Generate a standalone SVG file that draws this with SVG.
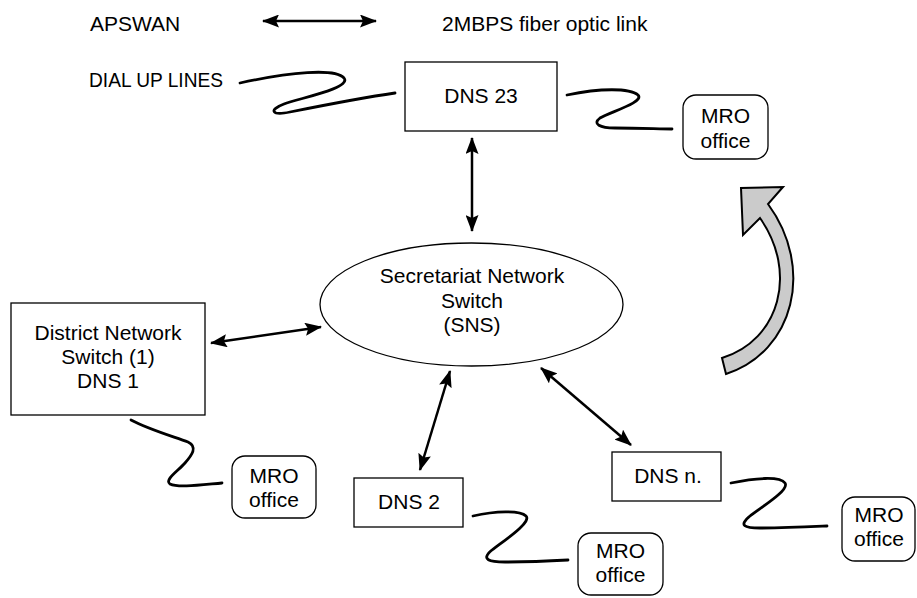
<svg xmlns="http://www.w3.org/2000/svg" width="917" height="598" viewBox="0 0 917 598">
<style>
  text { font-family: "Liberation Sans", Arial, sans-serif; font-size: 21px; fill: #000; text-anchor: middle; }
  .lt { text-anchor: start; }
  .box { fill: #fff; stroke: #000; stroke-width: 1.3; }
  .mro { fill: #fff; stroke: #000; stroke-width: 1.3; }
  .link { fill: none; stroke: #000; stroke-width: 2.5; marker-start: url(#ah); marker-end: url(#ah); }
  .dial { fill: none; stroke: #000; stroke-width: 2.8; stroke-linecap: round; }
</style>
<defs>
  <marker id="ah" viewBox="0 0 17 13" refX="16" refY="6.5" markerWidth="17" markerHeight="13" markerUnits="userSpaceOnUse" orient="auto-start-reverse">
    <path d="M0,0 L17,6.5 L0,13 L3,6.5 Z" fill="#000"/>
  </marker>
</defs>
<rect width="917" height="598" fill="#fff"/>

<g id="legend">
  <text class="lt" x="90" y="31">APSWAN</text>
  <line class="link" x1="263" y1="21" x2="376" y2="21"/>
  <text class="lt" x="442" y="31">2MBPS fiber optic link</text>
  <text class="lt" x="89" y="87" textLength="134" lengthAdjust="spacingAndGlyphs">DIAL UP LINES</text>
</g>

<g id="connectors">
  <line class="link" x1="472" y1="138" x2="472" y2="231"/>
  <line class="link" x1="211" y1="343" x2="321" y2="327"/>
  <line class="link" x1="450" y1="371" x2="420" y2="470"/>
  <line class="link" x1="541" y1="368" x2="631" y2="445"/>
  <path class="dial" d="M240,83 C290,72 335,68 344,78 C352,88 300,98 284,104 C268,110 272,116 290,112 C320,106 360,98 395,93"/>
  <path class="dial" d="M567,95 C600,88 630,88 638,95 C645,102 610,112 600,118 C592,124 600,128 615,128 C640,128 660,129 672,129"/>
  <path class="dial" d="M131,420 C150,430 175,437 188,442 C198,447 192,455 185,463 C178,471 164,480 170,484 C178,488 200,485 222,483"/>
  <path class="dial" d="M473,516 C495,511 520,510 526,516 C532,522 505,540 492,550 C480,560 490,562 505,562 C530,562 550,561 568,560"/>
  <path class="dial" d="M731,483 C755,478 780,476 785,483 C790,490 760,508 750,516 C738,526 745,528 760,528 C785,528 805,527 827,526"/>
</g>

<g id="rotation-arrow">
  <path d="M722,358 C780,340 798,272 760,218 L743,235 L741,188 L783,187 L768,204 C815,268 794,352 726,374 Z" fill="#cbcbcb" stroke="#000" stroke-width="2" stroke-linejoin="miter"/>
</g>

<g id="dns23">
  <rect class="box" x="405" y="62" width="152" height="69"/>
  <text x="481" y="103">DNS 23</text>
</g>

<g id="mro-top">
  <rect class="mro" x="683" y="95" width="85" height="64" rx="13"/>
  <text x="725.5" y="123">MRO</text>
  <text x="725.5" y="148">office</text>
</g>

<g id="sns">
  <ellipse cx="471.5" cy="304.5" rx="151.5" ry="61.5" fill="#fff" stroke="#000" stroke-width="1.3"/>
  <text x="472" y="283">Secretariat Network</text>
  <text x="472" y="308">Switch</text>
  <text x="472" y="332">(SNS)</text>
</g>

<g id="dns1">
  <rect class="box" x="11" y="303" width="194" height="112"/>
  <text x="108" y="340">District Network</text>
  <text x="108" y="364">Switch (1)</text>
  <text x="108" y="388">DNS 1</text>
</g>

<g id="mro-left">
  <rect class="mro" x="232" y="456" width="84" height="62" rx="13"/>
  <text x="274" y="483">MRO</text>
  <text x="274" y="507">office</text>
</g>

<g id="dns2">
  <rect class="box" x="354" y="478" width="109" height="49"/>
  <text x="409" y="509">DNS 2</text>
</g>

<g id="mro-bottom">
  <rect class="mro" x="578" y="533" width="85" height="62" rx="13"/>
  <text x="620.5" y="558">MRO</text>
  <text x="620.5" y="582">office</text>
</g>

<g id="dnsn">
  <rect class="box" x="612" y="452" width="109" height="49"/>
  <text x="668" y="483">DNS n.</text>
</g>

<g id="mro-right">
  <rect class="mro" x="842" y="497" width="73" height="64" rx="13"/>
  <text x="879" y="522">MRO</text>
  <text x="879" y="546">office</text>
</g>
</svg>
